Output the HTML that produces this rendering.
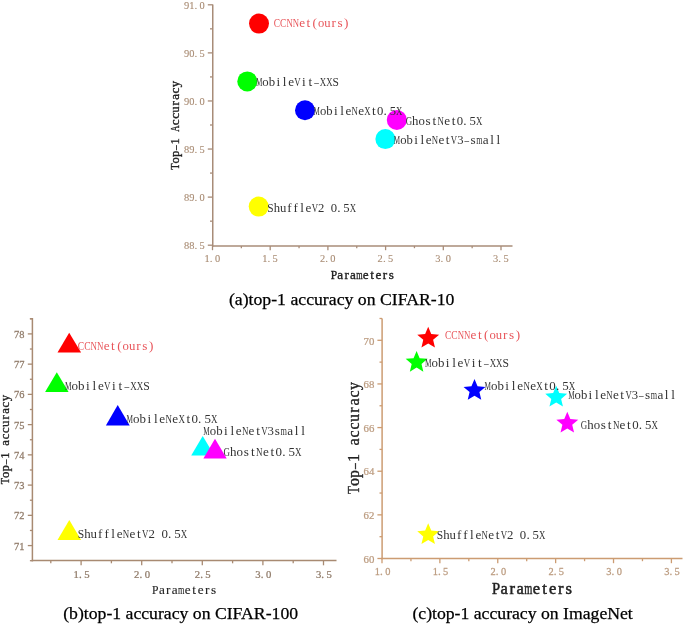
<!DOCTYPE html>
<html><head><meta charset="utf-8"><style>
html,body{margin:0;padding:0;background:#fff;}
body{width:685px;height:624px;overflow:hidden;}
svg{display:block;will-change:transform;}
</style></head><body>
<svg width="685" height="624" viewBox="0 0 685 624">
<rect width="685" height="624" fill="#fff"/>
<line x1="207.80" y1="4.80" x2="212.75" y2="4.80" stroke="#a88c78" stroke-width="1.3"/>
<line x1="207.80" y1="52.88" x2="212.75" y2="52.88" stroke="#a88c78" stroke-width="1.3"/>
<line x1="207.80" y1="100.96" x2="212.75" y2="100.96" stroke="#a88c78" stroke-width="1.3"/>
<line x1="207.80" y1="149.04" x2="212.75" y2="149.04" stroke="#a88c78" stroke-width="1.3"/>
<line x1="207.80" y1="197.12" x2="212.75" y2="197.12" stroke="#a88c78" stroke-width="1.3"/>
<line x1="207.80" y1="245.20" x2="212.75" y2="245.20" stroke="#a88c78" stroke-width="1.3"/>
<line x1="210.00" y1="28.84" x2="212.75" y2="28.84" stroke="#a88c78" stroke-width="1.3"/>
<line x1="210.00" y1="76.92" x2="212.75" y2="76.92" stroke="#a88c78" stroke-width="1.3"/>
<line x1="210.00" y1="125.00" x2="212.75" y2="125.00" stroke="#a88c78" stroke-width="1.3"/>
<line x1="210.00" y1="173.08" x2="212.75" y2="173.08" stroke="#a88c78" stroke-width="1.3"/>
<line x1="210.00" y1="221.16" x2="212.75" y2="221.16" stroke="#a88c78" stroke-width="1.3"/>
<line x1="212.50" y1="245.90" x2="212.50" y2="250.20" stroke="#a88c78" stroke-width="1.3"/>
<line x1="270.20" y1="245.90" x2="270.20" y2="250.20" stroke="#a88c78" stroke-width="1.3"/>
<line x1="327.90" y1="245.90" x2="327.90" y2="250.20" stroke="#a88c78" stroke-width="1.3"/>
<line x1="385.60" y1="245.90" x2="385.60" y2="250.20" stroke="#a88c78" stroke-width="1.3"/>
<line x1="443.30" y1="245.90" x2="443.30" y2="250.20" stroke="#a88c78" stroke-width="1.3"/>
<line x1="501.00" y1="245.90" x2="501.00" y2="250.20" stroke="#a88c78" stroke-width="1.3"/>
<line x1="241.35" y1="245.90" x2="241.35" y2="248.20" stroke="#a88c78" stroke-width="1.3"/>
<line x1="299.05" y1="245.90" x2="299.05" y2="248.20" stroke="#a88c78" stroke-width="1.3"/>
<line x1="356.75" y1="245.90" x2="356.75" y2="248.20" stroke="#a88c78" stroke-width="1.3"/>
<line x1="414.45" y1="245.90" x2="414.45" y2="248.20" stroke="#a88c78" stroke-width="1.3"/>
<line x1="472.15" y1="245.90" x2="472.15" y2="248.20" stroke="#a88c78" stroke-width="1.3"/>
<line x1="212.75" y1="4.50" x2="212.75" y2="246.65" stroke="#a88c78" stroke-width="1.5"/>
<line x1="212.00" y1="245.90" x2="512.50" y2="245.90" stroke="#a88c78" stroke-width="1.5"/>
<g font-family="Liberation Serif" font-size="11.0" fill="#a98c74" font-weight="normal" text-anchor="middle" stroke="#a98c74" stroke-width="0.12"><text transform="translate(186.60 8.50) scale(0.945 1)">9</text><text transform="translate(191.80 8.50) scale(0.945 1)">1</text><text transform="translate(195.86 8.50) scale(1.000 1)">.</text><text transform="translate(202.20 8.50) scale(0.945 1)">0</text></g>
<g font-family="Liberation Serif" font-size="11.0" fill="#a98c74" font-weight="normal" text-anchor="middle" stroke="#a98c74" stroke-width="0.12"><text transform="translate(186.60 56.58) scale(0.945 1)">9</text><text transform="translate(191.80 56.58) scale(0.945 1)">0</text><text transform="translate(195.86 56.58) scale(1.000 1)">.</text><text transform="translate(202.20 56.58) scale(0.945 1)">5</text></g>
<g font-family="Liberation Serif" font-size="11.0" fill="#a98c74" font-weight="normal" text-anchor="middle" stroke="#a98c74" stroke-width="0.12"><text transform="translate(186.60 104.66) scale(0.945 1)">9</text><text transform="translate(191.80 104.66) scale(0.945 1)">0</text><text transform="translate(195.86 104.66) scale(1.000 1)">.</text><text transform="translate(202.20 104.66) scale(0.945 1)">0</text></g>
<g font-family="Liberation Serif" font-size="11.0" fill="#a98c74" font-weight="normal" text-anchor="middle" stroke="#a98c74" stroke-width="0.12"><text transform="translate(186.60 152.74) scale(0.945 1)">8</text><text transform="translate(191.80 152.74) scale(0.945 1)">9</text><text transform="translate(195.86 152.74) scale(1.000 1)">.</text><text transform="translate(202.20 152.74) scale(0.945 1)">5</text></g>
<g font-family="Liberation Serif" font-size="11.0" fill="#a98c74" font-weight="normal" text-anchor="middle" stroke="#a98c74" stroke-width="0.12"><text transform="translate(186.60 200.82) scale(0.945 1)">8</text><text transform="translate(191.80 200.82) scale(0.945 1)">9</text><text transform="translate(195.86 200.82) scale(1.000 1)">.</text><text transform="translate(202.20 200.82) scale(0.945 1)">0</text></g>
<g font-family="Liberation Serif" font-size="11.0" fill="#a98c74" font-weight="normal" text-anchor="middle" stroke="#a98c74" stroke-width="0.12"><text transform="translate(186.60 248.90) scale(0.945 1)">8</text><text transform="translate(191.80 248.90) scale(0.945 1)">8</text><text transform="translate(195.86 248.90) scale(1.000 1)">.</text><text transform="translate(202.20 248.90) scale(0.945 1)">5</text></g>
<g font-family="Liberation Serif" font-size="11.0" fill="#a98c74" font-weight="normal" text-anchor="middle" stroke="#a98c74" stroke-width="0.12"><text transform="translate(207.10 261.90) scale(0.945 1)">1</text><text transform="translate(211.16 261.90) scale(1.000 1)">.</text><text transform="translate(217.50 261.90) scale(0.945 1)">0</text></g>
<g font-family="Liberation Serif" font-size="11.0" fill="#a98c74" font-weight="normal" text-anchor="middle" stroke="#a98c74" stroke-width="0.12"><text transform="translate(264.80 261.90) scale(0.945 1)">1</text><text transform="translate(268.86 261.90) scale(1.000 1)">.</text><text transform="translate(275.20 261.90) scale(0.945 1)">5</text></g>
<g font-family="Liberation Serif" font-size="11.0" fill="#a98c74" font-weight="normal" text-anchor="middle" stroke="#a98c74" stroke-width="0.12"><text transform="translate(322.50 261.90) scale(0.945 1)">2</text><text transform="translate(326.56 261.90) scale(1.000 1)">.</text><text transform="translate(332.90 261.90) scale(0.945 1)">0</text></g>
<g font-family="Liberation Serif" font-size="11.0" fill="#a98c74" font-weight="normal" text-anchor="middle" stroke="#a98c74" stroke-width="0.12"><text transform="translate(380.20 261.90) scale(0.945 1)">2</text><text transform="translate(384.26 261.90) scale(1.000 1)">.</text><text transform="translate(390.60 261.90) scale(0.945 1)">5</text></g>
<g font-family="Liberation Serif" font-size="11.0" fill="#a98c74" font-weight="normal" text-anchor="middle" stroke="#a98c74" stroke-width="0.12"><text transform="translate(437.90 261.90) scale(0.945 1)">3</text><text transform="translate(441.96 261.90) scale(1.000 1)">.</text><text transform="translate(448.30 261.90) scale(0.945 1)">0</text></g>
<g font-family="Liberation Serif" font-size="11.0" fill="#a98c74" font-weight="normal" text-anchor="middle" stroke="#a98c74" stroke-width="0.12"><text transform="translate(495.60 261.90) scale(0.945 1)">3</text><text transform="translate(499.66 261.90) scale(1.000 1)">.</text><text transform="translate(506.00 261.90) scale(0.945 1)">5</text></g>
<circle cx="259.00" cy="23.60" r="10" fill="#ff0000"/>
<circle cx="247.30" cy="81.40" r="10" fill="#00ff00"/>
<circle cx="305.00" cy="110.30" r="10" fill="#0000ff"/>
<circle cx="396.80" cy="119.90" r="10" fill="#ff00ff"/>
<circle cx="385.40" cy="139.10" r="10" fill="#00ffff"/>
<circle cx="258.70" cy="206.60" r="10" fill="#ffff00"/>
<g font-family="Liberation Serif" font-size="13.2" fill="#e8555a" font-weight="normal" text-anchor="middle"><text transform="translate(276.95 26.60) scale(0.716 1)">C</text><text transform="translate(283.25 26.60) scale(0.716 1)">C</text><text transform="translate(289.55 26.60) scale(0.661 1)">N</text><text transform="translate(295.85 26.60) scale(0.661 1)">N</text><text transform="translate(302.15 26.60) scale(1.000 1)">e</text><text transform="translate(308.45 26.60) scale(1.000 1)">t</text><text transform="translate(314.75 26.60) scale(1.000 1)">(</text><text transform="translate(321.05 26.60) scale(0.955 1)">o</text><text transform="translate(327.35 26.60) scale(0.955 1)">u</text><text transform="translate(333.65 26.60) scale(1.000 1)">r</text><text transform="translate(339.95 26.60) scale(1.000 1)">s</text><text transform="translate(346.25 26.60) scale(1.000 1)">)</text></g>
<g font-family="Liberation Serif" font-size="13.2" fill="#333333" font-weight="normal" text-anchor="middle"><text transform="translate(259.10 86.00) scale(0.545 1)">M</text><text transform="translate(265.49 86.00) scale(0.969 1)">o</text><text transform="translate(271.88 86.00) scale(0.969 1)">b</text><text transform="translate(278.27 86.00) scale(1.000 1)">i</text><text transform="translate(284.67 86.00) scale(1.000 1)">l</text><text transform="translate(291.06 86.00) scale(1.000 1)">e</text><text transform="translate(297.45 86.00) scale(0.671 1)">V</text><text transform="translate(303.84 86.00) scale(1.000 1)">i</text><text transform="translate(310.23 86.00) scale(1.000 1)">t</text><text transform="translate(316.63 86.00) scale(0.697 1)">–</text><text transform="translate(323.02 86.00) scale(0.671 1)">X</text><text transform="translate(329.41 86.00) scale(0.671 1)">X</text><text transform="translate(335.80 86.00) scale(0.871 1)">S</text></g>
<g font-family="Liberation Serif" font-size="13.2" fill="#333333" font-weight="normal" text-anchor="middle"><text transform="translate(316.77 114.70) scale(0.540 1)">M</text><text transform="translate(323.10 114.70) scale(0.960 1)">o</text><text transform="translate(329.44 114.70) scale(0.960 1)">b</text><text transform="translate(335.78 114.70) scale(1.000 1)">i</text><text transform="translate(342.11 114.70) scale(1.000 1)">l</text><text transform="translate(348.45 114.70) scale(1.000 1)">e</text><text transform="translate(354.78 114.70) scale(0.665 1)">N</text><text transform="translate(361.12 114.70) scale(1.000 1)">e</text><text transform="translate(367.45 114.70) scale(0.665 1)">X</text><text transform="translate(373.79 114.70) scale(1.000 1)">t</text><text transform="translate(380.12 114.70) scale(0.960 1)">0</text><text transform="translate(385.07 114.70) scale(1.000 1)">.</text><text transform="translate(392.80 114.70) scale(0.960 1)">5</text><text transform="translate(399.13 114.70) scale(0.665 1)">X</text></g>
<g font-family="Liberation Serif" font-size="13.2" fill="#333333" font-weight="normal" text-anchor="middle"><text transform="translate(408.89 124.70) scale(0.670 1)">G</text><text transform="translate(415.27 124.70) scale(0.967 1)">h</text><text transform="translate(421.66 124.70) scale(0.967 1)">o</text><text transform="translate(428.04 124.70) scale(1.000 1)">s</text><text transform="translate(434.43 124.70) scale(1.000 1)">t</text><text transform="translate(440.81 124.70) scale(0.670 1)">N</text><text transform="translate(447.19 124.70) scale(1.000 1)">e</text><text transform="translate(453.57 124.70) scale(1.000 1)">t</text><text transform="translate(459.96 124.70) scale(0.967 1)">0</text><text transform="translate(464.94 124.70) scale(1.000 1)">.</text><text transform="translate(472.72 124.70) scale(0.967 1)">5</text><text transform="translate(479.11 124.70) scale(0.670 1)">X</text></g>
<g font-family="Liberation Serif" font-size="13.2" fill="#333333" font-weight="normal" text-anchor="middle"><text transform="translate(396.97 144.10) scale(0.540 1)">M</text><text transform="translate(403.30 144.10) scale(0.960 1)">o</text><text transform="translate(409.64 144.10) scale(0.960 1)">b</text><text transform="translate(415.97 144.10) scale(1.000 1)">i</text><text transform="translate(422.31 144.10) scale(1.000 1)">l</text><text transform="translate(428.64 144.10) scale(1.000 1)">e</text><text transform="translate(434.98 144.10) scale(0.665 1)">N</text><text transform="translate(441.31 144.10) scale(1.000 1)">e</text><text transform="translate(447.65 144.10) scale(1.000 1)">t</text><text transform="translate(453.99 144.10) scale(0.665 1)">V</text><text transform="translate(460.32 144.10) scale(0.960 1)">3</text><text transform="translate(466.66 144.10) scale(0.691 1)">–</text><text transform="translate(472.99 144.10) scale(1.000 1)">s</text><text transform="translate(479.33 144.10) scale(0.617 1)">m</text><text transform="translate(485.66 144.10) scale(1.000 1)">a</text><text transform="translate(492.00 144.10) scale(1.000 1)">l</text><text transform="translate(498.33 144.10) scale(1.000 1)">l</text></g>
<g font-family="Liberation Serif" font-size="13.2" fill="#333333" font-weight="normal" text-anchor="middle"><text transform="translate(270.47 211.50) scale(0.863 1)">S</text><text transform="translate(276.80 211.50) scale(0.960 1)">h</text><text transform="translate(283.14 211.50) scale(0.960 1)">u</text><text transform="translate(289.48 211.50) scale(1.000 1)">f</text><text transform="translate(295.81 211.50) scale(1.000 1)">f</text><text transform="translate(302.15 211.50) scale(1.000 1)">l</text><text transform="translate(308.48 211.50) scale(1.000 1)">e</text><text transform="translate(314.82 211.50) scale(0.665 1)">V</text><text transform="translate(321.15 211.50) scale(0.960 1)">2</text><text transform="translate(333.83 211.50) scale(0.960 1)">0</text><text transform="translate(338.77 211.50) scale(1.000 1)">.</text><text transform="translate(346.50 211.50) scale(0.960 1)">5</text><text transform="translate(352.83 211.50) scale(0.665 1)">X</text></g>
<g font-family="Liberation Serif" font-size="13.2" fill="#222" font-weight="normal" text-anchor="middle" stroke="#222" stroke-width="0.35" transform="rotate(-90 178.80 169.80)"><text transform="translate(181.97 169.80) scale(0.787 1)">T</text><text transform="translate(188.31 169.80) scale(0.961 1)">o</text><text transform="translate(194.66 169.80) scale(0.961 1)">p</text><text transform="translate(201.00 169.80) scale(0.692 1)">–</text><text transform="translate(207.34 169.80) scale(0.961 1)">1</text><text transform="translate(220.03 169.80) scale(0.665 1)">A</text><text transform="translate(226.37 169.80) scale(1.000 1)">c</text><text transform="translate(232.71 169.80) scale(1.000 1)">c</text><text transform="translate(239.06 169.80) scale(0.961 1)">u</text><text transform="translate(245.40 169.80) scale(1.000 1)">r</text><text transform="translate(251.74 169.80) scale(1.000 1)">a</text><text transform="translate(258.09 169.80) scale(1.000 1)">c</text><text transform="translate(264.43 169.80) scale(0.961 1)">y</text></g>
<g font-family="Liberation Serif" font-size="13.2" fill="#222" font-weight="normal" text-anchor="middle" stroke="#222" stroke-width="0.35"><text transform="translate(333.88 279.00) scale(0.868 1)">P</text><text transform="translate(340.25 279.00) scale(1.000 1)">a</text><text transform="translate(346.62 279.00) scale(1.000 1)">r</text><text transform="translate(353.00 279.00) scale(1.000 1)">a</text><text transform="translate(359.37 279.00) scale(0.620 1)">m</text><text transform="translate(365.74 279.00) scale(1.000 1)">e</text><text transform="translate(372.11 279.00) scale(1.000 1)">t</text><text transform="translate(378.47 279.00) scale(1.000 1)">e</text><text transform="translate(384.84 279.00) scale(1.000 1)">r</text><text transform="translate(391.21 279.00) scale(1.000 1)">s</text></g>
<text x="228.90" y="304.60" font-family='"Liberation Serif", serif' font-size="17.5" fill="#000" font-weight="normal" text-anchor="start" textLength="225.60" lengthAdjust="spacingAndGlyphs" stroke="#000" stroke-width="0.25">(a)top-1 accuracy on CIFAR-10</text>
<line x1="27.80" y1="545.58" x2="32.40" y2="545.58" stroke="#a88a72" stroke-width="1.3"/>
<line x1="27.80" y1="515.34" x2="32.40" y2="515.34" stroke="#a88a72" stroke-width="1.3"/>
<line x1="27.80" y1="485.10" x2="32.40" y2="485.10" stroke="#a88a72" stroke-width="1.3"/>
<line x1="27.80" y1="454.86" x2="32.40" y2="454.86" stroke="#a88a72" stroke-width="1.3"/>
<line x1="27.80" y1="424.62" x2="32.40" y2="424.62" stroke="#a88a72" stroke-width="1.3"/>
<line x1="27.80" y1="394.38" x2="32.40" y2="394.38" stroke="#a88a72" stroke-width="1.3"/>
<line x1="27.80" y1="364.14" x2="32.40" y2="364.14" stroke="#a88a72" stroke-width="1.3"/>
<line x1="27.80" y1="333.90" x2="32.40" y2="333.90" stroke="#a88a72" stroke-width="1.3"/>
<line x1="29.90" y1="530.46" x2="32.40" y2="530.46" stroke="#a88a72" stroke-width="1.3"/>
<line x1="29.90" y1="500.22" x2="32.40" y2="500.22" stroke="#a88a72" stroke-width="1.3"/>
<line x1="29.90" y1="469.98" x2="32.40" y2="469.98" stroke="#a88a72" stroke-width="1.3"/>
<line x1="29.90" y1="439.74" x2="32.40" y2="439.74" stroke="#a88a72" stroke-width="1.3"/>
<line x1="29.90" y1="409.50" x2="32.40" y2="409.50" stroke="#a88a72" stroke-width="1.3"/>
<line x1="29.90" y1="379.26" x2="32.40" y2="379.26" stroke="#a88a72" stroke-width="1.3"/>
<line x1="29.90" y1="349.02" x2="32.40" y2="349.02" stroke="#a88a72" stroke-width="1.3"/>
<line x1="29.90" y1="318.78" x2="32.40" y2="318.78" stroke="#a88a72" stroke-width="1.3"/>
<line x1="29.90" y1="318.78" x2="32.40" y2="318.78" stroke="#a88a72" stroke-width="1.3"/>
<line x1="29.90" y1="560.70" x2="32.40" y2="560.70" stroke="#a88a72" stroke-width="1.3"/>
<line x1="81.10" y1="560.60" x2="81.10" y2="565.30" stroke="#a88a72" stroke-width="1.3"/>
<line x1="141.70" y1="560.60" x2="141.70" y2="565.30" stroke="#a88a72" stroke-width="1.3"/>
<line x1="202.30" y1="560.60" x2="202.30" y2="565.30" stroke="#a88a72" stroke-width="1.3"/>
<line x1="262.90" y1="560.60" x2="262.90" y2="565.30" stroke="#a88a72" stroke-width="1.3"/>
<line x1="323.50" y1="560.60" x2="323.50" y2="565.30" stroke="#a88a72" stroke-width="1.3"/>
<line x1="50.80" y1="560.60" x2="50.80" y2="563.30" stroke="#a88a72" stroke-width="1.3"/>
<line x1="111.40" y1="560.60" x2="111.40" y2="563.30" stroke="#a88a72" stroke-width="1.3"/>
<line x1="172.00" y1="560.60" x2="172.00" y2="563.30" stroke="#a88a72" stroke-width="1.3"/>
<line x1="232.60" y1="560.60" x2="232.60" y2="563.30" stroke="#a88a72" stroke-width="1.3"/>
<line x1="293.20" y1="560.60" x2="293.20" y2="563.30" stroke="#a88a72" stroke-width="1.3"/>
<line x1="32.40" y1="318.00" x2="32.40" y2="561.35" stroke="#a88a72" stroke-width="1.5"/>
<line x1="31.65" y1="560.60" x2="336.50" y2="560.60" stroke="#a88a72" stroke-width="1.5"/>
<g font-family="Liberation Serif" font-size="11.0" fill="#8f7a68" font-weight="normal" text-anchor="middle" stroke="#8f7a68" stroke-width="0.25"><text transform="translate(16.60 549.58) scale(0.945 1)">7</text><text transform="translate(21.80 549.58) scale(0.945 1)">1</text></g>
<g font-family="Liberation Serif" font-size="11.0" fill="#8f7a68" font-weight="normal" text-anchor="middle" stroke="#8f7a68" stroke-width="0.25"><text transform="translate(16.60 519.34) scale(0.945 1)">7</text><text transform="translate(21.80 519.34) scale(0.945 1)">2</text></g>
<g font-family="Liberation Serif" font-size="11.0" fill="#8f7a68" font-weight="normal" text-anchor="middle" stroke="#8f7a68" stroke-width="0.25"><text transform="translate(16.60 489.10) scale(0.945 1)">7</text><text transform="translate(21.80 489.10) scale(0.945 1)">3</text></g>
<g font-family="Liberation Serif" font-size="11.0" fill="#8f7a68" font-weight="normal" text-anchor="middle" stroke="#8f7a68" stroke-width="0.25"><text transform="translate(16.60 458.86) scale(0.945 1)">7</text><text transform="translate(21.80 458.86) scale(0.945 1)">4</text></g>
<g font-family="Liberation Serif" font-size="11.0" fill="#8f7a68" font-weight="normal" text-anchor="middle" stroke="#8f7a68" stroke-width="0.25"><text transform="translate(16.60 428.62) scale(0.945 1)">7</text><text transform="translate(21.80 428.62) scale(0.945 1)">5</text></g>
<g font-family="Liberation Serif" font-size="11.0" fill="#8f7a68" font-weight="normal" text-anchor="middle" stroke="#8f7a68" stroke-width="0.25"><text transform="translate(16.60 398.38) scale(0.945 1)">7</text><text transform="translate(21.80 398.38) scale(0.945 1)">6</text></g>
<g font-family="Liberation Serif" font-size="11.0" fill="#8f7a68" font-weight="normal" text-anchor="middle" stroke="#8f7a68" stroke-width="0.25"><text transform="translate(16.60 368.14) scale(0.945 1)">7</text><text transform="translate(21.80 368.14) scale(0.945 1)">7</text></g>
<g font-family="Liberation Serif" font-size="11.0" fill="#8f7a68" font-weight="normal" text-anchor="middle" stroke="#8f7a68" stroke-width="0.25"><text transform="translate(16.60 337.90) scale(0.945 1)">7</text><text transform="translate(21.80 337.90) scale(0.945 1)">8</text></g>
<g font-family="Liberation Serif" font-size="11.0" fill="#8f7a68" font-weight="normal" text-anchor="middle" stroke="#8f7a68" stroke-width="0.25"><text transform="translate(76.17 577.80) scale(0.970 1)">1</text><text transform="translate(80.33 577.80) scale(1.000 1)">.</text><text transform="translate(86.83 577.80) scale(0.970 1)">5</text></g>
<g font-family="Liberation Serif" font-size="11.0" fill="#8f7a68" font-weight="normal" text-anchor="middle" stroke="#8f7a68" stroke-width="0.25"><text transform="translate(136.77 577.80) scale(0.970 1)">2</text><text transform="translate(140.93 577.80) scale(1.000 1)">.</text><text transform="translate(147.43 577.80) scale(0.970 1)">0</text></g>
<g font-family="Liberation Serif" font-size="11.0" fill="#8f7a68" font-weight="normal" text-anchor="middle" stroke="#8f7a68" stroke-width="0.25"><text transform="translate(197.37 577.80) scale(0.970 1)">2</text><text transform="translate(201.53 577.80) scale(1.000 1)">.</text><text transform="translate(208.03 577.80) scale(0.970 1)">5</text></g>
<g font-family="Liberation Serif" font-size="11.0" fill="#8f7a68" font-weight="normal" text-anchor="middle" stroke="#8f7a68" stroke-width="0.25"><text transform="translate(257.97 577.80) scale(0.970 1)">3</text><text transform="translate(262.13 577.80) scale(1.000 1)">.</text><text transform="translate(268.63 577.80) scale(0.970 1)">0</text></g>
<g font-family="Liberation Serif" font-size="11.0" fill="#8f7a68" font-weight="normal" text-anchor="middle" stroke="#8f7a68" stroke-width="0.25"><text transform="translate(318.57 577.80) scale(0.970 1)">3</text><text transform="translate(322.73 577.80) scale(1.000 1)">.</text><text transform="translate(329.23 577.80) scale(0.970 1)">5</text></g>
<polygon points="69.20,332.70 81.10,352.60 57.50,352.60" fill="#ff0000"/>
<polygon points="56.80,372.20 68.60,392.10 45.10,392.10" fill="#00ff00"/>
<polygon points="117.70,405.00 129.70,425.40 105.90,425.40" fill="#0000ff"/>
<polygon points="202.70,435.90 214.40,455.50 191.20,455.50" fill="#00ffff"/>
<polygon points="215.00,438.70 226.70,458.60 203.40,458.60" fill="#ff00ff"/>
<polygon points="69.30,520.00 81.10,540.00 57.50,540.00" fill="#ffff00"/>
<g font-family="Liberation Serif" font-size="13.2" fill="#e8555a" font-weight="normal" text-anchor="middle"><text transform="translate(81.00 350.40) scale(0.726 1)">C</text><text transform="translate(87.39 350.40) scale(0.726 1)">C</text><text transform="translate(93.78 350.40) scale(0.671 1)">N</text><text transform="translate(100.17 350.40) scale(0.671 1)">N</text><text transform="translate(106.56 350.40) scale(1.000 1)">e</text><text transform="translate(112.95 350.40) scale(1.000 1)">t</text><text transform="translate(119.35 350.40) scale(1.000 1)">(</text><text transform="translate(125.74 350.40) scale(0.968 1)">o</text><text transform="translate(132.13 350.40) scale(0.968 1)">u</text><text transform="translate(138.52 350.40) scale(1.000 1)">r</text><text transform="translate(144.91 350.40) scale(1.000 1)">s</text><text transform="translate(151.30 350.40) scale(1.000 1)">)</text></g>
<g font-family="Liberation Serif" font-size="13.2" fill="#333333" font-weight="normal" text-anchor="middle"><text transform="translate(68.17 389.90) scale(0.556 1)">M</text><text transform="translate(74.70 389.90) scale(0.990 1)">o</text><text transform="translate(81.23 389.90) scale(0.990 1)">b</text><text transform="translate(87.76 389.90) scale(1.000 1)">i</text><text transform="translate(94.29 389.90) scale(1.000 1)">l</text><text transform="translate(100.82 389.90) scale(1.000 1)">e</text><text transform="translate(107.35 389.90) scale(0.685 1)">V</text><text transform="translate(113.88 389.90) scale(1.000 1)">i</text><text transform="translate(120.41 389.90) scale(1.000 1)">t</text><text transform="translate(126.94 389.90) scale(0.712 1)">–</text><text transform="translate(133.47 389.90) scale(0.685 1)">X</text><text transform="translate(140.00 389.90) scale(0.685 1)">X</text><text transform="translate(146.53 389.90) scale(0.890 1)">S</text></g>
<g font-family="Liberation Serif" font-size="13.2" fill="#333333" font-weight="normal" text-anchor="middle"><text transform="translate(129.84 423.20) scale(0.553 1)">M</text><text transform="translate(136.33 423.20) scale(0.983 1)">o</text><text transform="translate(142.81 423.20) scale(0.983 1)">b</text><text transform="translate(149.30 423.20) scale(1.000 1)">i</text><text transform="translate(155.79 423.20) scale(1.000 1)">l</text><text transform="translate(162.27 423.20) scale(1.000 1)">e</text><text transform="translate(168.76 423.20) scale(0.680 1)">N</text><text transform="translate(175.24 423.20) scale(1.000 1)">e</text><text transform="translate(181.73 423.20) scale(0.680 1)">X</text><text transform="translate(188.21 423.20) scale(1.000 1)">t</text><text transform="translate(194.70 423.20) scale(0.983 1)">0</text><text transform="translate(199.76 423.20) scale(1.000 1)">.</text><text transform="translate(207.67 423.20) scale(0.983 1)">5</text><text transform="translate(214.16 423.20) scale(0.680 1)">X</text></g>
<g font-family="Liberation Serif" font-size="13.2" fill="#333333" font-weight="normal" text-anchor="middle"><text transform="translate(206.52 434.70) scale(0.548 1)">M</text><text transform="translate(212.95 434.70) scale(0.974 1)">o</text><text transform="translate(219.38 434.70) scale(0.974 1)">b</text><text transform="translate(225.81 434.70) scale(1.000 1)">i</text><text transform="translate(232.24 434.70) scale(1.000 1)">l</text><text transform="translate(238.67 434.70) scale(1.000 1)">e</text><text transform="translate(245.10 434.70) scale(0.675 1)">N</text><text transform="translate(251.53 434.70) scale(1.000 1)">e</text><text transform="translate(257.97 434.70) scale(1.000 1)">t</text><text transform="translate(264.40 434.70) scale(0.675 1)">V</text><text transform="translate(270.83 434.70) scale(0.974 1)">3</text><text transform="translate(277.26 434.70) scale(1.000 1)">s</text><text transform="translate(283.69 434.70) scale(0.626 1)">m</text><text transform="translate(290.12 434.70) scale(1.000 1)">a</text><text transform="translate(296.55 434.70) scale(1.000 1)">l</text><text transform="translate(302.98 434.70) scale(1.000 1)">l</text></g>
<g font-family="Liberation Serif" font-size="13.2" fill="#333333" font-weight="normal" text-anchor="middle"><text transform="translate(226.85 456.40) scale(0.681 1)">G</text><text transform="translate(233.34 456.40) scale(0.984 1)">h</text><text transform="translate(239.83 456.40) scale(0.984 1)">o</text><text transform="translate(246.32 456.40) scale(1.000 1)">s</text><text transform="translate(252.81 456.40) scale(1.000 1)">t</text><text transform="translate(259.30 456.40) scale(0.681 1)">N</text><text transform="translate(265.80 456.40) scale(1.000 1)">e</text><text transform="translate(272.29 456.40) scale(1.000 1)">t</text><text transform="translate(278.78 456.40) scale(0.984 1)">0</text><text transform="translate(283.84 456.40) scale(1.000 1)">.</text><text transform="translate(291.76 456.40) scale(0.984 1)">5</text><text transform="translate(298.25 456.40) scale(0.681 1)">X</text></g>
<g font-family="Liberation Serif" font-size="13.2" fill="#333333" font-weight="normal" text-anchor="middle"><text transform="translate(80.92 538.20) scale(0.877 1)">S</text><text transform="translate(87.36 538.20) scale(0.976 1)">h</text><text transform="translate(93.80 538.20) scale(0.976 1)">u</text><text transform="translate(100.24 538.20) scale(1.000 1)">f</text><text transform="translate(106.69 538.20) scale(1.000 1)">f</text><text transform="translate(113.13 538.20) scale(1.000 1)">l</text><text transform="translate(119.57 538.20) scale(1.000 1)">e</text><text transform="translate(126.01 538.20) scale(0.676 1)">N</text><text transform="translate(132.45 538.20) scale(1.000 1)">e</text><text transform="translate(138.89 538.20) scale(1.000 1)">t</text><text transform="translate(145.33 538.20) scale(0.676 1)">V</text><text transform="translate(151.77 538.20) scale(0.976 1)">2</text><text transform="translate(164.66 538.20) scale(0.976 1)">0</text><text transform="translate(169.68 538.20) scale(1.000 1)">.</text><text transform="translate(177.54 538.20) scale(0.976 1)">5</text><text transform="translate(183.98 538.20) scale(0.676 1)">X</text></g>
<g font-family="Liberation Serif" font-size="12.8" fill="#222" font-weight="normal" text-anchor="middle" stroke="#222" stroke-width="0.3" transform="rotate(-90 9.30 484.30)"><text transform="translate(12.49 484.30) scale(0.816 1)">T</text><text transform="translate(18.87 484.30) scale(0.997 1)">o</text><text transform="translate(25.25 484.30) scale(0.997 1)">p</text><text transform="translate(31.62 484.30) scale(0.718 1)">–</text><text transform="translate(38.00 484.30) scale(0.997 1)">1</text><text transform="translate(50.76 484.30) scale(1.000 1)">a</text><text transform="translate(57.14 484.30) scale(1.000 1)">c</text><text transform="translate(63.52 484.30) scale(1.000 1)">c</text><text transform="translate(69.90 484.30) scale(0.997 1)">u</text><text transform="translate(76.27 484.30) scale(1.000 1)">r</text><text transform="translate(82.65 484.30) scale(1.000 1)">a</text><text transform="translate(89.03 484.30) scale(1.000 1)">c</text><text transform="translate(95.41 484.30) scale(0.997 1)">y</text></g>
<g font-family="Liberation Serif" font-size="13.2" fill="#222" font-weight="normal" text-anchor="middle" stroke="#222" stroke-width="0.12"><text transform="translate(155.34 593.80) scale(0.881 1)">P</text><text transform="translate(161.81 593.80) scale(1.000 1)">a</text><text transform="translate(168.28 593.80) scale(1.000 1)">r</text><text transform="translate(174.75 593.80) scale(1.000 1)">a</text><text transform="translate(181.22 593.80) scale(0.630 1)">m</text><text transform="translate(187.69 593.80) scale(1.000 1)">e</text><text transform="translate(194.16 593.80) scale(1.000 1)">t</text><text transform="translate(200.62 593.80) scale(1.000 1)">e</text><text transform="translate(207.09 593.80) scale(1.000 1)">r</text><text transform="translate(213.56 593.80) scale(1.000 1)">s</text></g>
<text x="63.20" y="618.80" font-family='"Liberation Serif", serif' font-size="17.5" fill="#000" font-weight="normal" text-anchor="start" textLength="234.90" lengthAdjust="spacingAndGlyphs" stroke="#000" stroke-width="0.25">(b)top-1 accuracy on CIFAR-100</text>
<line x1="377.40" y1="558.50" x2="382.10" y2="558.50" stroke="#cc9c72" stroke-width="1.3"/>
<line x1="377.40" y1="514.86" x2="382.10" y2="514.86" stroke="#cc9c72" stroke-width="1.3"/>
<line x1="377.40" y1="471.22" x2="382.10" y2="471.22" stroke="#cc9c72" stroke-width="1.3"/>
<line x1="377.40" y1="427.58" x2="382.10" y2="427.58" stroke="#cc9c72" stroke-width="1.3"/>
<line x1="377.40" y1="383.94" x2="382.10" y2="383.94" stroke="#cc9c72" stroke-width="1.3"/>
<line x1="377.40" y1="340.30" x2="382.10" y2="340.30" stroke="#cc9c72" stroke-width="1.3"/>
<line x1="379.50" y1="536.68" x2="382.10" y2="536.68" stroke="#cc9c72" stroke-width="1.3"/>
<line x1="379.50" y1="493.04" x2="382.10" y2="493.04" stroke="#cc9c72" stroke-width="1.3"/>
<line x1="379.50" y1="449.40" x2="382.10" y2="449.40" stroke="#cc9c72" stroke-width="1.3"/>
<line x1="379.50" y1="405.76" x2="382.10" y2="405.76" stroke="#cc9c72" stroke-width="1.3"/>
<line x1="379.50" y1="362.12" x2="382.10" y2="362.12" stroke="#cc9c72" stroke-width="1.3"/>
<line x1="379.50" y1="318.48" x2="382.10" y2="318.48" stroke="#cc9c72" stroke-width="1.3"/>
<line x1="382.00" y1="558.50" x2="382.00" y2="563.20" stroke="#cc9c72" stroke-width="1.3"/>
<line x1="439.88" y1="558.50" x2="439.88" y2="563.20" stroke="#cc9c72" stroke-width="1.3"/>
<line x1="497.76" y1="558.50" x2="497.76" y2="563.20" stroke="#cc9c72" stroke-width="1.3"/>
<line x1="555.64" y1="558.50" x2="555.64" y2="563.20" stroke="#cc9c72" stroke-width="1.3"/>
<line x1="613.52" y1="558.50" x2="613.52" y2="563.20" stroke="#cc9c72" stroke-width="1.3"/>
<line x1="671.40" y1="558.50" x2="671.40" y2="563.20" stroke="#cc9c72" stroke-width="1.3"/>
<line x1="410.94" y1="558.50" x2="410.94" y2="561.20" stroke="#cc9c72" stroke-width="1.3"/>
<line x1="468.82" y1="558.50" x2="468.82" y2="561.20" stroke="#cc9c72" stroke-width="1.3"/>
<line x1="526.70" y1="558.50" x2="526.70" y2="561.20" stroke="#cc9c72" stroke-width="1.3"/>
<line x1="584.58" y1="558.50" x2="584.58" y2="561.20" stroke="#cc9c72" stroke-width="1.3"/>
<line x1="642.46" y1="558.50" x2="642.46" y2="561.20" stroke="#cc9c72" stroke-width="1.3"/>
<line x1="382.10" y1="318.50" x2="382.10" y2="559.25" stroke="#cc9c72" stroke-width="1.5"/>
<line x1="381.35" y1="558.50" x2="682.50" y2="558.50" stroke="#cc9c72" stroke-width="1.5"/>
<g font-family="Liberation Serif" font-size="11.0" fill="#bc9c80" font-weight="normal" text-anchor="middle" stroke="#bc9c80" stroke-width="0.25"><text transform="translate(366.30 562.70) scale(0.982 1)">6</text><text transform="translate(371.70 562.70) scale(0.982 1)">0</text></g>
<g font-family="Liberation Serif" font-size="11.0" fill="#bc9c80" font-weight="normal" text-anchor="middle" stroke="#bc9c80" stroke-width="0.25"><text transform="translate(366.30 519.06) scale(0.982 1)">6</text><text transform="translate(371.70 519.06) scale(0.982 1)">2</text></g>
<g font-family="Liberation Serif" font-size="11.0" fill="#bc9c80" font-weight="normal" text-anchor="middle" stroke="#bc9c80" stroke-width="0.25"><text transform="translate(366.30 475.42) scale(0.982 1)">6</text><text transform="translate(371.70 475.42) scale(0.982 1)">4</text></g>
<g font-family="Liberation Serif" font-size="11.0" fill="#bc9c80" font-weight="normal" text-anchor="middle" stroke="#bc9c80" stroke-width="0.25"><text transform="translate(366.30 431.78) scale(0.982 1)">6</text><text transform="translate(371.70 431.78) scale(0.982 1)">6</text></g>
<g font-family="Liberation Serif" font-size="11.0" fill="#bc9c80" font-weight="normal" text-anchor="middle" stroke="#bc9c80" stroke-width="0.25"><text transform="translate(366.30 388.14) scale(0.982 1)">6</text><text transform="translate(371.70 388.14) scale(0.982 1)">8</text></g>
<g font-family="Liberation Serif" font-size="11.0" fill="#bc9c80" font-weight="normal" text-anchor="middle" stroke="#bc9c80" stroke-width="0.25"><text transform="translate(366.30 344.50) scale(0.982 1)">7</text><text transform="translate(371.70 344.50) scale(0.982 1)">0</text></g>
<g font-family="Liberation Serif" font-size="11.0" fill="#bc9c80" font-weight="normal" text-anchor="middle" stroke="#bc9c80" stroke-width="0.25"><text transform="translate(377.40 575.00) scale(0.945 1)">1</text><text transform="translate(381.46 575.00) scale(1.000 1)">.</text><text transform="translate(387.80 575.00) scale(0.945 1)">0</text></g>
<g font-family="Liberation Serif" font-size="11.0" fill="#bc9c80" font-weight="normal" text-anchor="middle" stroke="#bc9c80" stroke-width="0.25"><text transform="translate(435.28 575.00) scale(0.945 1)">1</text><text transform="translate(439.34 575.00) scale(1.000 1)">.</text><text transform="translate(445.68 575.00) scale(0.945 1)">5</text></g>
<g font-family="Liberation Serif" font-size="11.0" fill="#bc9c80" font-weight="normal" text-anchor="middle" stroke="#bc9c80" stroke-width="0.25"><text transform="translate(493.16 575.00) scale(0.945 1)">2</text><text transform="translate(497.22 575.00) scale(1.000 1)">.</text><text transform="translate(503.56 575.00) scale(0.945 1)">0</text></g>
<g font-family="Liberation Serif" font-size="11.0" fill="#bc9c80" font-weight="normal" text-anchor="middle" stroke="#bc9c80" stroke-width="0.25"><text transform="translate(551.04 575.00) scale(0.945 1)">2</text><text transform="translate(555.10 575.00) scale(1.000 1)">.</text><text transform="translate(561.44 575.00) scale(0.945 1)">5</text></g>
<g font-family="Liberation Serif" font-size="11.0" fill="#bc9c80" font-weight="normal" text-anchor="middle" stroke="#bc9c80" stroke-width="0.25"><text transform="translate(608.92 575.00) scale(0.945 1)">3</text><text transform="translate(612.98 575.00) scale(1.000 1)">.</text><text transform="translate(619.32 575.00) scale(0.945 1)">0</text></g>
<g font-family="Liberation Serif" font-size="11.0" fill="#bc9c80" font-weight="normal" text-anchor="middle" stroke="#bc9c80" stroke-width="0.25"><text transform="translate(666.80 575.00) scale(0.945 1)">3</text><text transform="translate(670.86 575.00) scale(1.000 1)">.</text><text transform="translate(677.20 575.00) scale(0.945 1)">5</text></g>
<polygon points="428.20,326.70 431.24,334.01 439.14,334.65 433.12,339.80 434.96,347.50 428.20,343.38 421.44,347.50 423.28,339.80 417.26,334.65 425.16,334.01" fill="#ff0000"/>
<polygon points="416.60,350.90 419.64,358.21 427.54,358.85 421.52,364.00 423.36,371.70 416.60,367.57 409.84,371.70 411.68,364.00 405.66,358.85 413.56,358.21" fill="#00ff00"/>
<polygon points="474.50,379.00 477.54,386.31 485.44,386.95 479.42,392.10 481.26,399.80 474.50,395.68 467.74,399.80 469.58,392.10 463.56,386.95 471.46,386.31" fill="#0000ff"/>
<polygon points="556.20,385.80 559.24,393.11 567.14,393.75 561.12,398.90 562.96,406.60 556.20,402.48 549.44,406.60 551.28,398.90 545.26,393.75 553.16,393.11" fill="#00ffff"/>
<polygon points="567.30,411.70 570.34,419.01 578.24,419.65 572.22,424.80 574.06,432.50 567.30,428.38 560.54,432.50 562.38,424.80 556.36,419.65 564.26,419.01" fill="#ff00ff"/>
<polygon points="428.20,523.30 431.24,530.61 439.14,531.25 433.12,536.40 434.96,544.10 428.20,539.97 421.44,544.10 423.28,536.40 417.26,531.25 425.16,530.61" fill="#ffff00"/>
<g font-family="Liberation Serif" font-size="13.2" fill="#e8555a" font-weight="normal" text-anchor="middle"><text transform="translate(448.17 339.40) scale(0.720 1)">C</text><text transform="translate(454.51 339.40) scale(0.720 1)">C</text><text transform="translate(460.85 339.40) scale(0.665 1)">N</text><text transform="translate(467.20 339.40) scale(0.665 1)">N</text><text transform="translate(473.54 339.40) scale(1.000 1)">e</text><text transform="translate(479.88 339.40) scale(1.000 1)">t</text><text transform="translate(486.22 339.40) scale(1.000 1)">(</text><text transform="translate(492.56 339.40) scale(0.961 1)">o</text><text transform="translate(498.90 339.40) scale(0.961 1)">u</text><text transform="translate(505.25 339.40) scale(1.000 1)">r</text><text transform="translate(511.59 339.40) scale(1.000 1)">s</text><text transform="translate(517.93 339.40) scale(1.000 1)">)</text></g>
<g font-family="Liberation Serif" font-size="13.2" fill="#333333" font-weight="normal" text-anchor="middle"><text transform="translate(428.23 366.50) scale(0.551 1)">M</text><text transform="translate(434.69 366.50) scale(0.979 1)">o</text><text transform="translate(441.15 366.50) scale(0.979 1)">b</text><text transform="translate(447.62 366.50) scale(1.000 1)">i</text><text transform="translate(454.08 366.50) scale(1.000 1)">l</text><text transform="translate(460.54 366.50) scale(1.000 1)">e</text><text transform="translate(467.00 366.50) scale(0.678 1)">V</text><text transform="translate(473.46 366.50) scale(1.000 1)">i</text><text transform="translate(479.92 366.50) scale(1.000 1)">t</text><text transform="translate(486.38 366.50) scale(0.705 1)">–</text><text transform="translate(492.85 366.50) scale(0.678 1)">X</text><text transform="translate(499.31 366.50) scale(0.678 1)">X</text><text transform="translate(505.77 366.50) scale(0.880 1)">S</text></g>
<g font-family="Liberation Serif" font-size="13.2" fill="#333333" font-weight="normal" text-anchor="middle"><text transform="translate(487.74 390.10) scale(0.552 1)">M</text><text transform="translate(494.22 390.10) scale(0.982 1)">o</text><text transform="translate(500.70 390.10) scale(0.982 1)">b</text><text transform="translate(507.18 390.10) scale(1.000 1)">i</text><text transform="translate(513.65 390.10) scale(1.000 1)">l</text><text transform="translate(520.13 390.10) scale(1.000 1)">e</text><text transform="translate(526.61 390.10) scale(0.680 1)">N</text><text transform="translate(533.09 390.10) scale(1.000 1)">e</text><text transform="translate(539.57 390.10) scale(0.680 1)">X</text><text transform="translate(546.05 390.10) scale(1.000 1)">t</text><text transform="translate(552.52 390.10) scale(0.982 1)">0</text><text transform="translate(557.58 390.10) scale(1.000 1)">.</text><text transform="translate(565.48 390.10) scale(0.982 1)">5</text><text transform="translate(571.96 390.10) scale(0.680 1)">X</text></g>
<g font-family="Liberation Serif" font-size="13.2" fill="#333333" font-weight="normal" text-anchor="middle"><text transform="translate(571.38 398.50) scale(0.541 1)">M</text><text transform="translate(577.73 398.50) scale(0.963 1)">o</text><text transform="translate(584.08 398.50) scale(0.963 1)">b</text><text transform="translate(590.44 398.50) scale(1.000 1)">i</text><text transform="translate(596.79 398.50) scale(1.000 1)">l</text><text transform="translate(603.14 398.50) scale(1.000 1)">e</text><text transform="translate(609.49 398.50) scale(0.666 1)">N</text><text transform="translate(615.85 398.50) scale(1.000 1)">e</text><text transform="translate(622.20 398.50) scale(1.000 1)">t</text><text transform="translate(628.55 398.50) scale(0.666 1)">V</text><text transform="translate(634.91 398.50) scale(0.963 1)">3</text><text transform="translate(641.26 398.50) scale(0.693 1)">–</text><text transform="translate(647.61 398.50) scale(1.000 1)">s</text><text transform="translate(653.96 398.50) scale(0.619 1)">m</text><text transform="translate(660.32 398.50) scale(1.000 1)">a</text><text transform="translate(666.67 398.50) scale(1.000 1)">l</text><text transform="translate(673.02 398.50) scale(1.000 1)">l</text></g>
<g font-family="Liberation Serif" font-size="13.2" fill="#333333" font-weight="normal" text-anchor="middle"><text transform="translate(584.01 428.60) scale(0.673 1)">G</text><text transform="translate(590.42 428.60) scale(0.972 1)">h</text><text transform="translate(596.84 428.60) scale(0.972 1)">o</text><text transform="translate(603.26 428.60) scale(1.000 1)">s</text><text transform="translate(609.67 428.60) scale(1.000 1)">t</text><text transform="translate(616.09 428.60) scale(0.673 1)">N</text><text transform="translate(622.51 428.60) scale(1.000 1)">e</text><text transform="translate(628.92 428.60) scale(1.000 1)">t</text><text transform="translate(635.34 428.60) scale(0.972 1)">0</text><text transform="translate(640.35 428.60) scale(1.000 1)">.</text><text transform="translate(648.17 428.60) scale(0.972 1)">5</text><text transform="translate(654.59 428.60) scale(0.673 1)">X</text></g>
<g font-family="Liberation Serif" font-size="13.2" fill="#333333" font-weight="normal" text-anchor="middle"><text transform="translate(439.99 539.20) scale(0.870 1)">S</text><text transform="translate(446.38 539.20) scale(0.968 1)">h</text><text transform="translate(452.77 539.20) scale(0.968 1)">u</text><text transform="translate(459.16 539.20) scale(1.000 1)">f</text><text transform="translate(465.55 539.20) scale(1.000 1)">f</text><text transform="translate(471.94 539.20) scale(1.000 1)">l</text><text transform="translate(478.32 539.20) scale(1.000 1)">e</text><text transform="translate(484.71 539.20) scale(0.670 1)">N</text><text transform="translate(491.10 539.20) scale(1.000 1)">e</text><text transform="translate(497.49 539.20) scale(1.000 1)">t</text><text transform="translate(503.88 539.20) scale(0.670 1)">V</text><text transform="translate(510.26 539.20) scale(0.968 1)">2</text><text transform="translate(523.04 539.20) scale(0.968 1)">0</text><text transform="translate(528.02 539.20) scale(1.000 1)">.</text><text transform="translate(535.82 539.20) scale(0.968 1)">5</text><text transform="translate(542.21 539.20) scale(0.670 1)">X</text></g>
<g font-family="Liberation Serif" font-size="16.0" fill="#222" font-weight="normal" text-anchor="middle" stroke="#222" stroke-width="0.35" transform="rotate(-90 358.90 494.00)"><text transform="translate(362.90 494.00) scale(0.819 1)">T</text><text transform="translate(370.90 494.00) scale(1.000 1)">o</text><text transform="translate(378.90 494.00) scale(1.000 1)">p</text><text transform="translate(386.90 494.00) scale(0.720 1)">–</text><text transform="translate(394.90 494.00) scale(1.000 1)">1</text><text transform="translate(410.90 494.00) scale(1.000 1)">a</text><text transform="translate(418.90 494.00) scale(1.000 1)">c</text><text transform="translate(426.90 494.00) scale(1.000 1)">c</text><text transform="translate(434.90 494.00) scale(1.000 1)">u</text><text transform="translate(442.90 494.00) scale(1.000 1)">r</text><text transform="translate(450.90 494.00) scale(1.000 1)">a</text><text transform="translate(458.90 494.00) scale(1.000 1)">c</text><text transform="translate(466.90 494.00) scale(1.000 1)">y</text></g>
<g font-family="Liberation Serif" font-size="16.5" fill="#222" font-weight="normal" text-anchor="middle" stroke="#222" stroke-width="0.5"><text transform="translate(496.04 594.30) scale(0.881 1)">P</text><text transform="translate(504.12 594.30) scale(1.000 1)">a</text><text transform="translate(512.20 594.30) scale(1.000 1)">r</text><text transform="translate(520.28 594.30) scale(1.000 1)">a</text><text transform="translate(528.36 594.30) scale(0.630 1)">m</text><text transform="translate(536.44 594.30) scale(1.000 1)">e</text><text transform="translate(544.52 594.30) scale(1.000 1)">t</text><text transform="translate(552.60 594.30) scale(1.000 1)">e</text><text transform="translate(560.68 594.30) scale(1.000 1)">r</text><text transform="translate(568.76 594.30) scale(1.000 1)">s</text></g>
<text x="412.40" y="619.10" font-family='"Liberation Serif", serif' font-size="17.5" fill="#000" font-weight="normal" text-anchor="start" textLength="220.40" lengthAdjust="spacingAndGlyphs" stroke="#000" stroke-width="0.25">(c)top-1 accuracy on ImageNet</text>
</svg>
</body></html>
